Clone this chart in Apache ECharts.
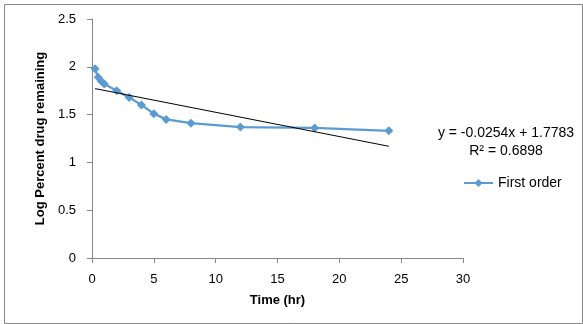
<!DOCTYPE html>
<html>
<head>
<meta charset="utf-8">
<script src="https://cdn.jsdelivr.net/npm/echarts@6/dist/echarts.min.js"></script>
<style>
  html, body { margin: 0; padding: 0; background: #fff; }
  #chart { width: 583px; height: 324px; }
</style>
</head>
<body>
<div id="chart"></div>
<script>
// Sampling times (hr) and log percent drug remaining
var timeHr = [0.25, 0.5, 0.75, 1, 2, 3, 4, 5, 6, 8, 12, 18, 24];
var logRemaining = [1.98, 1.89, 1.85, 1.82, 1.75, 1.68, 1.60, 1.51, 1.45, 1.41, 1.37, 1.36, 1.33];

// Linear trendline fitted to the data
var trendSlope = -0.0254;
var trendIntercept = 1.7783;
var trendR2 = 0.6898;

var seriesName = 'First order';
var xTitle = 'Time (hr)';
var yTitle = 'Log Percent drug remaining';

var points = timeHr.map(function (t, i) { return [t, logRemaining[i]]; });
var tStart = timeHr[0], tEnd = timeHr[timeHr.length - 1];
var trendPoints = [
  [tStart, trendSlope * tStart + trendIntercept],
  [tEnd, trendSlope * tEnd + trendIntercept]
];

var FONT = 'Liberation Sans';
var chart = echarts.init(document.getElementById('chart'), null, { renderer: 'canvas' });

chart.setOption({
  animation: false,
  backgroundColor: '#ffffff',
  textStyle: { fontFamily: FONT },
  grid: { left: 92, right: 120, top: 19, bottom: 66, containLabel: false },
  xAxis: {
    type: 'value', min: 0, max: 30, interval: 5,
    name: xTitle, nameLocation: 'middle', nameGap: 36,
    nameTextStyle: { fontFamily: FONT, fontSize: 13, fontWeight: 'bold', color: '#000' },
    axisLine: { show: true, lineStyle: { color: '#868686', width: 1 } },
    axisTick: { show: true, length: 5, lineStyle: { color: '#868686' } },
    axisLabel: { fontFamily: FONT, fontSize: 13, color: '#000', margin: 15 },
    splitLine: { show: false }
  },
  yAxis: {
    type: 'value', min: 0, max: 2.5, interval: 0.5,
    name: yTitle, nameLocation: 'middle', nameGap: 41, nameRotate: 90,
    nameTextStyle: { fontFamily: FONT, fontSize: 13, fontWeight: 'bold', color: '#000' },
    axisLine: { show: true, lineStyle: { color: '#868686', width: 1 } },
    axisTick: { show: true, length: 5, lineStyle: { color: '#868686' } },
    axisLabel: { fontFamily: FONT, fontSize: 13, color: '#000', margin: 16 },
    splitLine: { show: false }
  },
  legend: {
    data: [seriesName],
    left: 458, top: 171,
    itemWidth: 29, itemHeight: 10,
    textStyle: { fontFamily: FONT, fontSize: 14, color: '#000' }
  },
  series: [
    {
      name: seriesName,
      type: 'line',
      data: points,
      symbol: 'diamond',
      symbolSize: 9,
      lineStyle: { color: '#5B9BD5', width: 2.25 },
      itemStyle: { color: '#5B9BD5' },
      z: 3
    },
    {
      name: 'Linear trend',
      type: 'line',
      data: trendPoints,
      symbol: 'none',
      lineStyle: { color: '#000', width: 1 },
      silent: true,
      z: 4
    }
  ],
  graphic: [
    {
      type: 'rect', left: 2, top: 2, silent: true,
      shape: { width: 578, height: 319 },
      style: { fill: null, stroke: '#868686', lineWidth: 1 }
    },
    {
      type: 'text', silent: true,
      style: {
        x: 506, y: 133, align: 'center', verticalAlign: 'middle',
        text: 'y = ' + trendSlope.toFixed(4) + 'x + ' + trendIntercept.toFixed(4),
        font: '14px "' + FONT + '"', fill: '#000'
      }
    },
    {
      type: 'text', silent: true,
      style: {
        x: 506, y: 151, align: 'center', verticalAlign: 'middle',
        text: 'R\u00B2 = ' + trendR2.toFixed(4),
        font: '14px "' + FONT + '"', fill: '#000'
      }
    }
  ]
});
</script>
</body>
</html>
